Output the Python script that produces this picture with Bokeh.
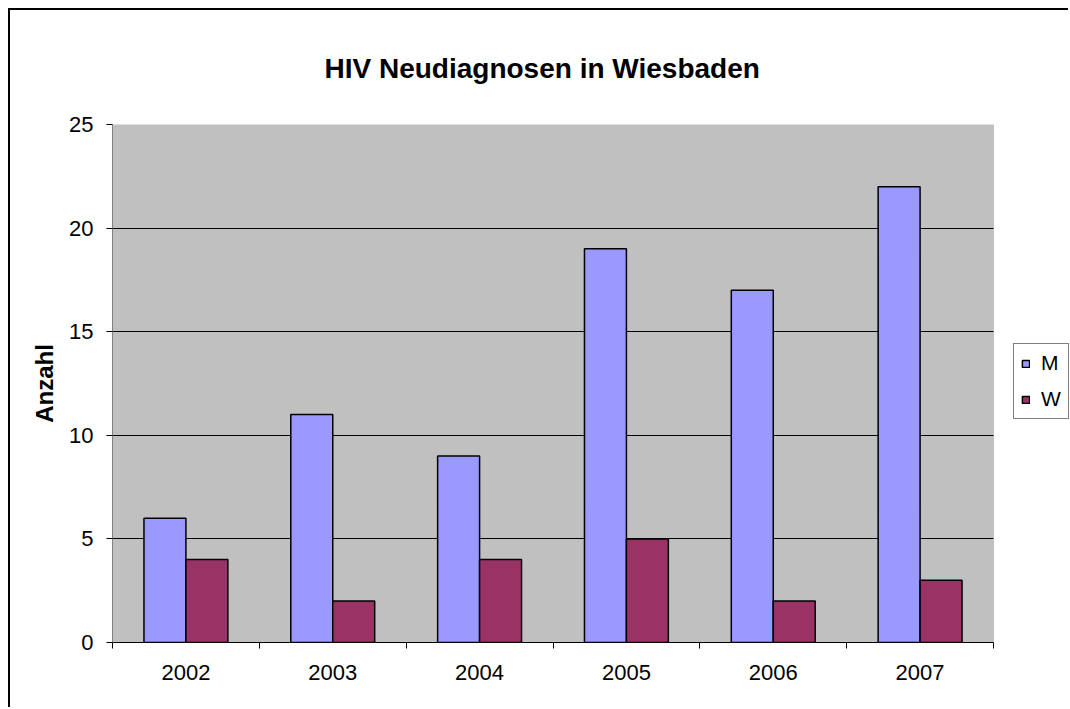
from bokeh.plotting import figure
from bokeh.models import (FixedTicker, Legend, LegendItem, Title, BoxAnnotation,
                          ColumnDataSource)
from bokeh.embed import file_html
from bokeh.resources import INLINE

years = ["2002", "2003", "2004", "2005", "2006", "2007"]
m_values = [6, 11, 9, 19, 17, 22]
w_values = [4, 2, 4, 5, 2, 3]
series_names = ["M", "W"]
y_ticks = [0, 5, 10, 15, 20, 25]
title_text = "HIV Neudiagnosen in Wiesbaden"
y_label = "Anzahl"

FONT = "Liberation Sans"
n = len(years)
y_max = y_ticks[-1]

# layout (pixels): gray plot area is 881 x 518; the frame reaches the canvas
# right edge so the legend can live inside it unclipped
CANVAS_W, CANVAS_H = 1060, 699
BORDER_L, BORDER_B, BORDER_T = 102, 67, 114
PLOT_W = 881
FRAME_W = CANVAS_W - BORDER_L
x_end = n * FRAME_W / PLOT_W

bar_w = 1 / 3.5
centers = [i + 0.5 for i in range(n)]
src = ColumnDataSource(dict(
    xm=[c - bar_w / 2 for c in centers],
    xw=[c + bar_w / 2 for c in centers],
    m=m_values, w=w_values))

p = figure(width=CANVAS_W, height=CANVAS_H, x_range=(0, x_end), y_range=(0, y_max),
           output_backend="svg", toolbar_location=None, title=None,
           min_border_left=BORDER_L, min_border_top=BORDER_T, min_border_right=0,
           min_border_bottom=BORDER_B)
p.styles = {"margin-left": "8px", "margin-top": "8px",
            "border-left": "2px solid black", "border-top": "2px solid black"}

p.background_fill_color = "white"
p.border_fill_color = "white"
p.outline_line_color = None

plot_area = BoxAnnotation(left=0, right=n, bottom=0, top=y_max,
                          fill_color="#C0C0C0", fill_alpha=1,
                          line_color="#808080", line_width=1, level="image")
p.add_layout(plot_area)

rm = p.vbar(x="xm", top="m", width=bar_w, source=src, fill_color="#9999FF",
            line_color="black", line_width=1.5)
rw = p.vbar(x="xw", top="w", width=bar_w, source=src, fill_color="#993366",
            line_color="black", line_width=1.5)

# x axis: labels at category centers, tick marks at boundaries
xa = p.xaxis[0]
xa.bounds = (0, n)
xa.ticker = FixedTicker(ticks=centers, minor_ticks=list(range(n + 1)))
xa.major_label_overrides = {c: y for c, y in zip(centers, years)}
xa.major_tick_line_color = None
xa.minor_tick_line_color = "black"
xa.minor_tick_out = 6
xa.minor_tick_in = 0
xa.axis_line_color = "black"
xa.axis_line_width = 1
xa.major_label_text_font = FONT
xa.major_label_text_font_size = "22px"
xa.major_label_text_color = "black"
xa.major_label_standoff = 16

ya = p.yaxis[0]
ya.bounds = (0, y_max)
ya.ticker = FixedTicker(ticks=y_ticks, minor_ticks=[])
ya.major_tick_out = 6
ya.major_tick_in = 0
ya.major_tick_line_color = "black"
ya.axis_line_color = "#808080"
ya.major_label_text_font = FONT
ya.major_label_text_font_size = "22px"
ya.major_label_text_color = "black"
ya.major_label_standoff = 13
ya.axis_label = y_label
ya.axis_label_text_font = FONT
ya.axis_label_text_font_style = "bold"
ya.axis_label_text_font_size = "24px"
ya.axis_label_text_color = "black"
ya.axis_label_standoff = 8

p.xgrid.grid_line_color = None
g = p.ygrid[0]
g.ticker = FixedTicker(ticks=y_ticks[1:-1])
g.grid_line_color = "black"
g.grid_line_width = 1
if "cross_bounds" in g.properties():
    g.cross_bounds = (0, n)
else:
    g.visible = False
    p.segment(x0=[0] * (len(y_ticks) - 2), x1=[n] * (len(y_ticks) - 2),
              y0=y_ticks[1:-1], y1=y_ticks[1:-1], line_color="black",
              line_width=1, level="underlay")

legend = Legend(items=[LegendItem(label=series_names[0], renderers=[rm]),
                       LegendItem(label=series_names[1], renderers=[rw])],
                location=(901, 223))
legend.border_line_color = "black"
legend.border_line_width = 1
legend.background_fill_color = "white"
legend.background_fill_alpha = 1
legend.label_text_font = FONT
legend.label_text_font_size = "21px"
legend.label_text_color = "black"
legend.glyph_width = 9
legend.glyph_height = 9
legend.label_standoff = 11
legend.padding = 7
legend.spacing = 12
legend.label_height = 24
legend.margin = 0
p.add_layout(legend, "center")

title = Title(text=title_text, align="left", offset=212, vertical_align="top",
              text_font=FONT, text_font_style="bold", text_font_size="28px",
              text_color="black", standoff=78)
p.add_layout(title, "above")

open("out.html", "w").write(file_html(p, INLINE))
